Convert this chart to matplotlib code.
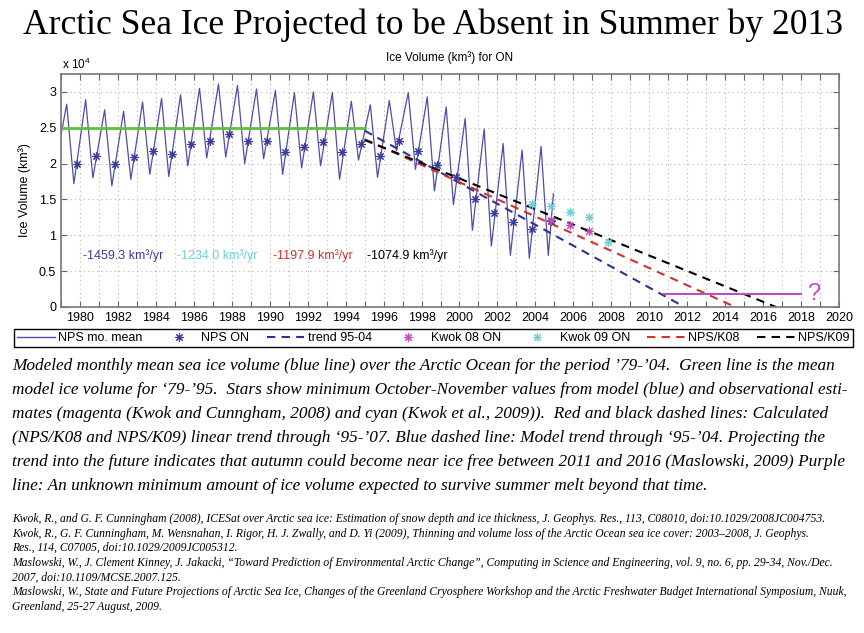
import numpy as np
import matplotlib
matplotlib.use("Agg")
import matplotlib.pyplot as plt
from matplotlib.lines import Line2D

plt.rcParams['font.family'] = ['Liberation Sans', 'DejaVu Sans']
plt.rcParams['mathtext.fontset'] = 'custom'
plt.rcParams['mathtext.rm'] = 'Liberation Sans'

# ice volume in units of 10^4 km^3
years = np.arange(1979, 2005)
spring_max = [2.83, 2.89, 2.75, 2.73, 2.86, 2.91, 2.96, 3.05, 3.11, 3.09, 3.04, 3.02, 2.99,
              3.00, 2.99, 2.87, 2.82, 2.88, 2.99, 2.93, 2.79, 2.63, 2.48, 2.28, 2.19, 2.24]
autumn_min = [1.72, 1.80, 1.69, 1.78, 1.85, 1.82, 1.97, 2.08, 2.09, 2.00, 2.07, 1.85, 1.94,
              1.97, 1.78, 2.05, 1.81, 2.18, 1.92, 1.62, 1.43, 1.07, 0.85, 0.72, 0.68, 0.72]
jan_1979 = 2.40
dec_2004 = 1.58

nps_on = [2.00, 2.11, 2.00, 2.09, 2.18, 2.14, 2.28, 2.32, 2.41, 2.32, 2.32, 2.16, 2.23,
          2.30, 2.16, 2.28, 2.11, 2.32, 2.17, 1.98, 1.82, 1.50, 1.31, 1.19, 1.09, 1.20]

kwok08_years = [2004, 2005, 2006]
kwok08_on = [1.21, 1.14, 1.06]
kwok09_years = [2003, 2004, 2005, 2006, 2007]
kwok09_on = [1.43, 1.41, 1.32, 1.26, 0.91]

mean_79_95 = 2.50
trend_names = ['trend 95-04', 'NPS/K08', 'NPS/K09']
trend_start = [2.46, 2.34, 2.33]          # value at start of 1995
trend_slopes = [-1459.3, -1197.9, -1074.9]  # km^3/yr
kwok09_slope = -1234.0

min_ice = 0.18
min_ice_span = [2010.8, 2018.0]

title = 'Arctic Sea Ice Projected to be Absent in Summer by 2013'
caption = [
    'Modeled monthly mean sea ice volume (blue line) over the Arctic Ocean for the period \u201979-\u201904.  Green line is the mean',
    'model ice volume for \u201879-\u201995.  Stars show minimum October-November values from model (blue) and observational esti-',
    'mates (magenta (Kwok and Cunngham, 2008) and cyan (Kwok et al., 2009)).  Red and black dashed lines: Calculated',
    '(NPS/K08 and NPS/K09) linear trend through \u201895-\u201907. Blue dashed line: Model trend through \u201895-\u201904. Projecting the',
    'trend into the future indicates that autumn could become near ice free between 2011 and 2016 (Maslowski, 2009) Purple',
    'line: An unknown minimum amount of ice volume expected to survive summer melt beyond that time.',
]
references = [
    'Kwok, R., and G. F. Cunningham (2008), ICESat over Arctic sea ice: Estimation of snow depth and ice thickness, J. Geophys. Res., 113, C08010, doi:10.1029/2008JC004753.',
    'Kwok, R., G. F. Cunningham, M. Wensnahan, I. Rigor, H. J. Zwally, and D. Yi (2009), Thinning and volume loss of the Arctic Ocean sea ice cover: 2003\u20132008, J. Geophys.',
    'Res., 114, C07005, doi:10.1029/2009JC005312.',
    'Maslowski, W., J. Clement Kinney, J. Jakacki, \u201cToward Prediction of Environmental Arctic Change\u201d, Computing in Science and Engineering, vol. 9, no. 6, pp. 29-34, Nov./Dec.',
    '2007, doi:10.1109/MCSE.2007.125.',
    'Maslowski, W., State and Future Projections of Arctic Sea Ice, Changes of the Greenland Cryosphere Workshop and the Arctic Freshwater Budget International Symposium, Nuuk,',
    'Greenland, 25-27 August, 2009.',
]

navy = '#3c3ca0'
line_blue = '#4d4daa'
magenta = '#c04cc0'
cyan = '#6fd0d4'
red = '#d03232'
green = '#5cc23a'
trend_colors = ['#30308e', red, 'black']
star = (8, 2, 0)
star_kw = dict(ls='none', marker=star, ms=6, mew=0.8)

# monthly curve through the spring maxima and autumn minima
t = [1979.0]
v = [jan_1979]
for y, hi, lo in zip(years, spring_max, autumn_min):
    t += [y + 0.3, y + 0.68]
    v += [hi, lo]
t.append(2004.95)
v.append(dec_2004)

fig = plt.figure(figsize=(8.64, 6.33), dpi=100)
ax = fig.add_axes([61 / 864, 1 - 307 / 633, 778 / 864, 233 / 633])

ax.plot(t, v, color=line_blue, lw=0.9)
ax.plot([1979, 1995], [mean_79_95, mean_79_95], color=green, lw=2)

for start, slope, col in zip(trend_start, trend_slopes, trend_colors):
    x_end = 1995 + start / (-slope / 1e4)
    ax.plot([1995, x_end], [start, 0], color=col, lw=1.5, ls=(0, (4, 3)))

ax.plot(years + 0.83, nps_on, color=navy, **star_kw)
ax.plot(np.array(kwok08_years) + 0.83, kwok08_on, color=magenta, **star_kw)
ax.plot(np.array(kwok09_years) + 0.83, kwok09_on, color=cyan, **star_kw)

ax.plot(min_ice_span, [min_ice, min_ice], color=magenta, lw=1.5)
ax.text(2018.3, min_ice, '?', color=magenta, fontsize=17, ha='left', va='center')

rates = [trend_slopes[0], kwok09_slope, trend_slopes[1], trend_slopes[2]]
rate_colors = [navy, cyan, red, 'black']
rate_x = [1980.15, 1985.1, 1990.15, 1995.1]
for r, c, x in zip(rates, rate_colors, rate_x):
    ax.text(x, 0.72, '%.1f km\u00b3/yr' % r, color=c, fontsize=9, ha='left', va='center')

ax.set_xlim(1979, 2020)
ax.set_ylim(0, 3.25)
xt = list(range(1979, 2021))
ax.set_xticks(xt)
ax.set_xticklabels([str(y) if y % 2 == 0 else '' for y in xt])
ax.set_yticks([0, 0.5, 1, 1.5, 2, 2.5, 3])
ax.set_yticklabels(['0', '0.5', '1', '1.5', '2', '2.5', '3'])
ax.tick_params(direction='in', top=True, right=True, length=4, labelsize=9,
               color='#666666', labelcolor='black')
ax.grid(True, ls=(0, (1, 3)), color='#b5b5b5', lw=0.8)
ax.set_axisbelow(True)
for s in ax.spines.values():
    s.set_color('#777777')
    s.set_linewidth(1.2)

fig.text(25 / 864, 1 - 190 / 633, 'Ice Volume (km\u00b3)', rotation=90, ha='center', va='center', fontsize=9)
fig.text(450 / 864, 1 - 58 / 633, 'Ice Volume (km\u00b3) for ON', ha='center', va='center', fontsize=8.5)
fig.text(62 / 864, 1 - 64 / 633, 'x 10$^{4}$', ha='left', va='center', fontsize=8.5)

handles = [
    Line2D([], [], color=line_blue, lw=1),
    Line2D([], [], color=navy, **star_kw),
    Line2D([], [], color=trend_colors[0], lw=1.5, ls=(0, (4, 3))),
    Line2D([], [], color=magenta, **star_kw),
    Line2D([], [], color=cyan, **star_kw),
    Line2D([], [], color=red, lw=1.5, ls=(0, (4, 3))),
    Line2D([], [], color='black', lw=1.5, ls=(0, (4, 3))),
]
labels = ['NPS mo. mean', 'NPS ON', trend_names[0], 'Kwok 08 ON', 'Kwok 09 ON', trend_names[1], trend_names[2]]
leg = fig.legend(handles, labels, ncol=7, loc='lower left', mode='expand',
                 bbox_to_anchor=(14 / 864, 1 - 347 / 633, 839 / 864, 19 / 633),
                 borderaxespad=0, fontsize=9, handlelength=3.0, handletextpad=0.3,
                 columnspacing=0.6, borderpad=0.25, fancybox=False, framealpha=1)
leg.get_frame().set_edgecolor('black')
leg.get_frame().set_linewidth(1)

fig.text(433 / 864, 1 - 25 / 633, title, family='Liberation Serif', fontsize=25.6, ha='center', va='center')

for i, line in enumerate(caption):
    fig.text(12 / 864, 1 - (366 + 24 * i) / 633, line, family='Liberation Serif', style='italic',
             fontsize=12.4, ha='left', va='center')
for i, line in enumerate(references):
    fig.text(12 / 864, 1 - (519 + 14.6 * i) / 633, line, family='Liberation Serif', style='italic',
             fontsize=8.4, ha='left', va='center')

fig.savefig('out.png', dpi=100)
